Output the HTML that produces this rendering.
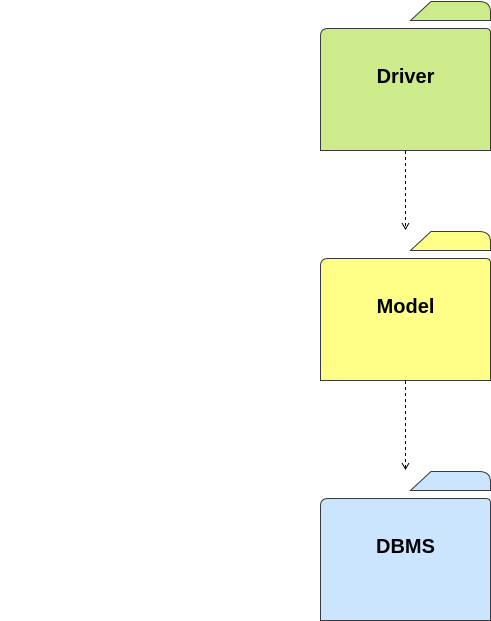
<!DOCTYPE html>
<html><head><style>html,body{margin:0;padding:0;background:#fff;width:491px;height:621px;overflow:hidden}</style></head>
<body>
<svg width="491" height="621" viewBox="0 0 491 621" xmlns="http://www.w3.org/2000/svg" style="display:block">
<defs>
<g id="pk">
<path d="M410.5 20.5 L431 1.5 L479 1.5 Q490.5 1.5 490.5 12 L490.5 20.5 Z" stroke="#36393d" stroke-width="1"/>
<path d="M320.5 150.5 L320.5 36 Q320.5 28.5 328 28.5 L486 28.5 Q490.5 28.5 490.5 33 L490.5 150.5 Z" stroke="#36393d" stroke-width="1"/>
</g>
</defs>
<use href="#pk" fill="#cdeb8b"/>
<use href="#pk" fill="#ffff88" transform="translate(0,230)"/>
<use href="#pk" fill="#cce5ff" transform="translate(0,470)"/>
<g font-family="Liberation Sans, sans-serif" font-weight="bold" font-size="20" text-anchor="middle" fill="#000">
<text x="405.5" y="83">Driver</text>
<text x="405.5" y="313">Model</text>
<text x="405.5" y="553">DBMS</text>
</g>
<g stroke="#000" fill="none" stroke-width="1">
<path d="M405.5 151 L405.5 228" stroke-dasharray="3,3"/>
<path d="M402 223 L405.5 229 L409 223"/>
<path d="M405.5 381 L405.5 468" stroke-dasharray="3,3"/>
<path d="M402 463 L405.5 469 L409 463"/>
</g>
</svg>
</body></html>
